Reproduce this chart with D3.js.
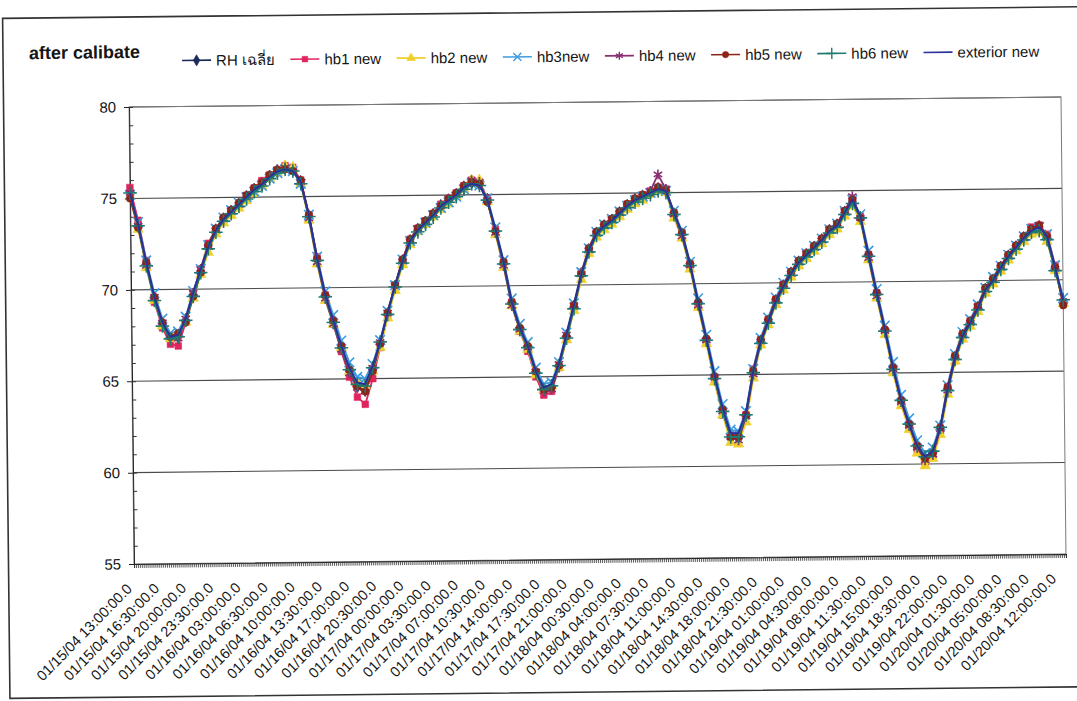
<!DOCTYPE html>
<html>
<head>
<meta charset="utf-8">
<script src="https://cdn.jsdelivr.net/npm/d3@7"></script>
<style>
  body { margin: 0; background: #fff; }
  text { font-family: Arial, 'Liberation Sans', 'Noto Sans', sans-serif; fill: #151515; }
</style>
</head>
<body>
<div id="chart"></div>
<script>
const width = 1077, height = 701;

// x category labels (every 3.5 h)
const tickLabels = [
  '01/15/04 13:00:00.0', '01/15/04 16:30:00.0', '01/15/04 20:00:00.0', '01/15/04 23:30:00.0',
  '01/16/04 03:00:00.0', '01/16/04 06:30:00.0', '01/16/04 10:00:00.0', '01/16/04 13:30:00.0',
  '01/16/04 17:00:00.0', '01/16/04 20:30:00.0', '01/17/04 00:00:00.0', '01/17/04 03:30:00.0',
  '01/17/04 07:00:00.0', '01/17/04 10:30:00.0', '01/17/04 14:00:00.0', '01/17/04 17:30:00.0',
  '01/17/04 21:00:00.0', '01/18/04 00:30:00.0', '01/18/04 04:00:00.0', '01/18/04 07:30:00.0',
  '01/18/04 11:00:00.0', '01/18/04 14:30:00.0', '01/18/04 18:00:00.0', '01/18/04 21:30:00.0',
  '01/19/04 01:00:00.0', '01/19/04 04:30:00.0', '01/19/04 08:00:00.0', '01/19/04 11:30:00.0',
  '01/19/04 15:00:00.0', '01/19/04 18:30:00.0', '01/19/04 22:00:00.0', '01/20/04 01:30:00.0',
  '01/20/04 05:00:00.0', '01/20/04 08:30:00.0', '01/20/04 12:00:00.0'
];
const firstReading = '01/15/04 13:00:00.0';
const lastReading = '01/20/04 13:00:00.0';

const yTicks = [55, 60, 65, 70, 75, 80];

const seriesNames = ['RH เฉลี่ย', 'hb1 new', 'hb2 new', 'hb3new', 'hb4 new', 'hb5 new', 'hb6 new', 'exterior new'];
const seriesColors = ['#1c2a5c', '#e0245e', '#f0cf2a', '#3d9be0', '#8a3070', '#8c2418', '#1f7a6e', '#2a2f9a'];
const seriesMarkers = ['diamond', 'square', 'triangle', 'times', 'asterisk', 'circle', 'plus', 'none'];

// hourly readings, %RH
const rhAvg = [
  75.4,73.6,71.4,69.5,68.1,67.3,67.4,68.3,69.7,71.0, 72.3,73.2,73.8,74.2,74.6,75.0,75.4,75.7,76.1,76.4,
  76.6,76.5,75.8,73.9,71.5,69.5,68.1,66.7,65.4,64.6, 64.4,65.5,66.9,68.5,70.0,71.4,72.5,73.1,73.5,73.9,
  74.4,74.7,75.0,75.4,75.7,75.6,74.7,73.0,71.2,69.0, 67.6,66.6,65.2,64.2,64.4,65.6,67.2,68.8,70.6,71.9,
  72.8,73.2,73.5,73.9,74.3,74.6,74.8,75.0,75.2,75.1, 73.8,72.7,71.0,68.9,66.9,64.8,63.0,61.5,61.5,62.7,
  65.1,66.8,67.9,69.0,69.8,70.5,71.1,71.5,71.9,72.3, 72.8,73.1,73.8,74.4,73.5,71.4,69.3,67.3,65.2,63.4,
  62.1,60.9,60.2,60.6,61.9,64.1,65.8,67.0,67.7,68.5, 69.5,70.0,70.7,71.3,71.8,72.3,72.7,72.8,72.3,70.6,
  68.8
];
const hb1 = [
  75.6,73.8,71.6,69.3,67.9,67.0,66.9,68.2,69.8,71.1, 72.5,73.3,73.9,74.3,74.5,75.1,75.5,75.9,76.2,76.4,
  76.7,76.6,75.9,74.0,71.7,69.6,68.0,66.5,65.1,64.0, 63.6,65.0,66.7,68.4,70.1,71.5,72.6,73.2,73.6,74.0,
  74.5,74.8,75.1,75.5,75.8,75.7,74.8,73.1,71.3,69.1, 67.5,66.4,65.0,64.0,64.2,65.5,67.1,68.8,70.7,72.0,
  72.9,73.3,73.6,74.0,74.4,74.7,74.9,75.1,75.3,75.2, 73.9,72.8,71.1,68.9,66.8,64.7,62.8,61.7,61.8,62.8,
  65.3,66.9,68.0,69.1,69.9,70.6,71.2,71.6,72.0,72.4, 72.9,73.2,73.9,74.5,73.6,71.5,69.4,67.3,65.1,63.3,
  62.0,60.8,60.1,60.5,61.8,64.2,65.9,67.1,67.8,68.6, 69.6,70.1,70.8,71.4,71.9,72.4,72.9,73.0,72.5,70.8,
  68.8
];
const hb2 = [
  75.1,73.3,71.2,69.4,68.0,67.3,67.5,68.2,69.5,70.8, 72.0,73.0,73.6,74.0,74.4,74.8,75.2,75.6,76.0,76.3,
  76.7,76.6,75.7,73.7,71.3,69.3,68.0,66.7,65.4,64.8, 64.6,65.4,66.7,68.3,69.8,71.2,72.3,73.0,73.4,73.8,
  74.2,74.5,74.9,75.3,75.8,75.8,74.6,72.8,71.0,68.9, 67.5,66.5,65.1,64.3,64.5,65.5,67.0,68.6,70.3,71.7,
  72.6,73.0,73.3,73.7,74.1,74.4,74.6,74.9,75.1,75.0, 73.6,72.5,70.8,68.7,66.7,64.6,62.8,61.3,61.2,62.4,
  64.8,66.6,67.7,68.8,69.6,70.3,70.9,71.3,71.7,72.1, 72.6,72.9,73.6,74.2,73.3,71.2,69.1,67.1,65.0,63.2,
  61.9,60.6,59.9,60.3,61.6,63.8,65.6,66.8,67.5,68.3, 69.3,69.8,70.5,71.1,71.6,72.1,72.5,72.6,72.1,70.5,
  68.7
];
const hb3 = [
  75.2,73.7,71.6,69.8,68.4,67.6,67.7,68.5,69.9,71.1, 72.4,73.3,73.9,74.3,74.7,75.0,75.3,75.6,76.0,76.3,
  76.5,76.4,75.7,74.0,71.7,69.8,68.5,67.1,65.9,65.1, 65.0,65.8,67.1,68.7,70.1,71.5,72.5,73.1,73.5,73.9,
  74.3,74.6,74.9,75.3,75.6,75.5,74.8,73.2,71.4,69.3, 67.9,66.9,65.5,64.6,64.7,65.8,67.4,69.0,70.7,72.0,
  72.9,73.3,73.6,74.0,74.3,74.6,74.8,75.0,75.2,75.1, 74.0,72.9,71.2,69.2,67.2,65.2,63.4,62.0,61.9,63.0,
  65.3,67.0,68.1,69.2,70.0,70.6,71.2,71.6,72.0,72.4, 72.9,73.2,73.9,74.5,73.7,71.7,69.6,67.6,65.6,63.8,
  62.5,61.3,60.6,60.9,62.1,64.3,66.0,67.2,67.9,68.7, 69.6,70.2,70.8,71.4,71.9,72.4,72.8,72.9,72.5,70.8,
  69.0
];
const hb4 = [
  75.3,73.5,71.3,69.6,68.2,67.4,67.3,68.4,69.8,71.1, 72.3,73.2,73.8,74.3,74.6,75.1,75.4,75.8,76.2,76.5,
  76.6,76.4,75.8,73.8,71.4,69.4,68.0,66.6,65.3,64.5, 64.3,65.6,67.0,68.6,70.1,71.4,72.5,73.2,73.6,74.0,
  74.4,74.8,75.0,75.4,75.8,75.7,74.7,72.9,71.1,68.9, 67.6,66.6,65.3,64.2,64.3,65.7,67.3,68.9,70.6,71.9,
  72.8,73.2,73.6,73.9,74.3,74.6,74.8,75.1,76.0,75.2, 73.8,72.6,71.0,68.8,66.9,64.9,63.0,61.6,61.4,62.7,
  65.0,66.8,67.9,69.0,69.9,70.5,71.1,71.6,71.9,72.3, 72.9,73.2,73.9,74.7,73.5,71.3,69.2,67.3,65.2,63.4,
  62.1,60.9,60.2,60.5,61.9,64.0,65.8,67.0,67.7,68.6, 69.5,70.0,70.7,71.3,71.8,72.3,72.8,73.0,72.3,70.6,
  68.8
];
const hb5 = [
  75.0,73.4,71.5,69.6,68.2,67.4,67.6,68.2,69.6,70.9, 72.4,73.3,73.9,74.3,74.7,75.1,75.5,75.8,76.2,76.5,
  76.5,76.4,75.9,74.0,71.6,69.6,68.2,66.8,65.5,64.6, 64.3,65.4,66.9,68.6,70.1,71.5,72.6,73.2,73.6,74.0,
  74.4,74.8,75.1,75.5,75.7,75.6,74.6,73.0,71.3,69.1, 67.7,66.7,65.3,64.3,64.4,65.6,67.2,68.9,70.6,72.0,
  72.9,73.3,73.6,74.0,74.4,74.7,74.9,75.0,75.3,75.1, 73.9,72.8,71.1,69.0,67.0,64.9,63.1,61.6,61.6,62.8,
  65.2,66.9,68.0,69.1,69.9,70.6,71.2,71.6,72.0,72.4, 72.9,73.2,73.9,74.5,73.5,71.5,69.4,67.4,65.3,63.5,
  62.2,61.0,60.3,60.6,62.0,64.2,65.9,67.1,67.8,68.6, 69.6,70.1,70.8,71.4,71.9,72.4,72.8,73.0,72.4,70.7,
  68.6
];
const hb6 = [
  75.3,73.5,71.3,69.4,68.0,67.3,67.4,68.3,69.6,70.9, 72.2,73.1,73.7,74.1,74.5,74.9,75.3,75.6,76.0,76.3,
  76.5,76.4,75.7,73.9,71.5,69.5,68.1,66.7,65.5,64.7, 64.6,65.6,67.0,68.5,70.0,71.3,72.4,73.0,73.4,73.8,
  74.3,74.6,74.9,75.3,75.6,75.5,74.7,73.0,71.2,69.0, 67.6,66.6,65.2,64.3,64.5,65.6,67.1,68.7,70.5,71.8,
  72.7,73.1,73.4,73.8,74.2,74.5,74.7,74.9,75.1,75.0, 73.8,72.7,71.0,68.9,66.9,64.8,63.0,61.6,61.6,62.8,
  65.1,66.7,67.8,68.9,69.7,70.4,71.0,71.4,71.8,72.2, 72.7,73.0,73.7,74.3,73.5,71.4,69.3,67.3,65.2,63.5,
  62.2,61.0,60.4,60.7,62.0,64.0,65.7,66.9,67.6,68.4, 69.4,69.9,70.6,71.2,71.7,72.2,72.6,72.7,72.2,70.5,
  68.9
];
const exterior = [
  75.3,73.6,71.5,69.6,68.2,67.4,67.5,68.4,69.8,71.1, 72.3,73.2,73.8,74.2,74.6,75.0,75.4,75.7,76.1,76.4,
  76.5,76.4,75.8,74.0,71.6,69.6,68.2,66.8,65.6,64.8, 64.7,65.7,67.0,68.6,70.1,71.4,72.5,73.1,73.5,73.9,
  74.4,74.7,75.0,75.4,75.6,75.5,74.7,73.1,71.3,69.1, 67.7,66.7,65.3,64.4,64.6,65.7,67.3,68.9,70.6,71.9,
  72.8,73.2,73.5,73.9,74.3,74.6,74.8,75.0,75.2,75.1, 73.9,72.8,71.1,69.0,67.0,65.0,63.2,61.8,61.8,62.9,
  65.2,66.8,67.9,69.0,69.8,70.5,71.1,71.5,71.9,72.3, 72.8,73.1,73.8,74.5,73.6,71.5,69.4,67.4,65.3,63.5,
  62.2,61.0,60.4,60.7,62.0,64.1,65.8,67.0,67.7,68.5, 69.5,70.0,70.7,71.3,71.8,72.3,72.7,72.9,72.4,70.7,
  68.9
];
const seriesValues = [rhAvg, hb1, hb2, hb3, hb4, hb5, hb6, exterior];

// plot box (before the slight scan tilt)
const plot = {left: 131.5, right: 1063.5, top: 102, bottom: 559};

const parseTime = d3.timeParse('%m/%d/%y %H:%M:%S.0');
const start = parseTime(firstReading);
const end = parseTime(lastReading);

let x = d3.scaleTime().domain([start, end]).range([plot.left, plot.right]);
let y = d3.scaleLinear().domain([55, 80]).range([plot.bottom, plot.top]);

let svg = d3.select('#chart').append('svg')
    .attr('width', width)
    .attr('height', height);

svg.append('rect').attr('width', width).attr('height', height).attr('fill', '#fff');

// the scanned page is a little tilted
let root = svg.append('g').attr('transform', 'rotate(-0.62,597,330)');

// outer chart frame
root.append('rect')
    .attr('x', 6).attr('y', 12)
    .attr('width', 1090).attr('height', 680)
    .attr('fill', 'none')
    .attr('stroke', '#333')
    .attr('stroke-width', 1.6);

// title
root.append('text')
    .attr('x', 32).attr('y', 53)
    .attr('font-size', 18)
    .attr('font-weight', 'bold')
    .text('after calibate');

// gridlines
root.append('g')
    .selectAll('line')
    .data(yTicks.filter(v => v > 55))
    .enter().append('line')
    .attr('x1', plot.left).attr('x2', plot.right)
    .attr('y1', d => y(d)).attr('y2', d => y(d))
    .attr('stroke', '#4a4a4a')
    .attr('stroke-width', 1.1);

// plot border
root.append('rect')
    .attr('x', plot.left).attr('y', plot.top)
    .attr('width', plot.right - plot.left).attr('height', plot.bottom - plot.top)
    .attr('fill', 'none')
    .attr('stroke', '#7a7a7a')
    .attr('stroke-width', 1);

// y axis
let yAxis = root.append('g')
    .attr('transform', 'translate(' + plot.left + ',0)')
    .call(d3.axisLeft(y).tickValues(yTicks).tickSize(5).tickPadding(8));
yAxis.selectAll('text').attr('font-size', 15).attr('font-family', "Arial, 'Liberation Sans', sans-serif");
yAxis.select('.domain').attr('stroke', '#222');
yAxis.selectAll('line').attr('stroke', '#222');

root.append('g')
    .attr('transform', 'translate(' + plot.left + ',0)')
    .call(d3.axisRight(y).ticks(25).tickSize(4).tickFormat(''))
    .call(g => g.select('.domain').remove())
    .selectAll('line').attr('stroke', '#333');

// x axis: dense minor ticks + rotated labels
let xMinor = root.append('g')
    .attr('transform', 'translate(0,' + plot.bottom + ')')
    .call(d3.axisBottom(x)
        .tickValues(d3.timeMinute.every(15).range(start, d3.timeMinute.offset(end, 1)))
        .tickSize(4)
        .tickFormat(''));
xMinor.select('.domain').attr('stroke', '#222');
xMinor.selectAll('line').attr('stroke', '#333').attr('stroke-width', 0.8);

root.append('g')
    .selectAll('text')
    .data(tickLabels)
    .enter().append('text')
    .attr('transform', d => 'translate(' + (x(parseTime(d)) - 5) + ',' + (plot.bottom + 22) + ') rotate(-45)')
    .attr('text-anchor', 'end')
    .attr('dy', '0.35em')
    .attr('font-size', 14.5)
    .text(d => d);

// markers
function markerPath(kind, size) {
  const types = {
    diamond: d3.symbolDiamond,
    square: d3.symbolSquare,
    triangle: d3.symbolTriangle,
    times: d3.symbolTimes || d3.symbolX,
    asterisk: d3.symbolAsterisk,
    circle: d3.symbolCircle,
    plus: d3.symbolPlus || d3.symbolCross
  };
  return d3.symbol(types[kind], size)();
}
const strokeMarkers = ['times', 'asterisk', 'plus'];
const markerSize = {diamond: 52, square: 44, triangle: 46, times: 62, asterisk: 66, circle: 44, plus: 62};

const times = rhAvg.map((v, i) => d3.timeHour.offset(start, i));

let line = d3.line()
    .x((d, i) => x(times[i]))
    .y(d => y(d));

let dataLayer = root.append('g');

seriesNames.forEach((name, s) => {
  let g = dataLayer.append('g').attr('class', 'series');
  g.append('path')
      .datum(seriesValues[s])
      .attr('d', line)
      .attr('fill', 'none')
      .attr('stroke', seriesColors[s])
      .attr('stroke-width', 1.8);

  let kind = seriesMarkers[s];
  if (kind === 'none') return;
  let isStroke = strokeMarkers.includes(kind);
  g.selectAll('path.m')
      .data(seriesValues[s])
      .enter().append('path')
      .attr('class', 'm')
      .attr('d', markerPath(kind, markerSize[kind]))
      .attr('transform', (d, i) => 'translate(' + x(times[i]) + ',' + y(d) + ')')
      .attr('fill', isStroke ? 'none' : seriesColors[s])
      .attr('stroke', seriesColors[s])
      .attr('stroke-width', isStroke ? 1.6 : 0.6);
});

// legend
let legend = root.append('g').attr('transform', 'translate(185,56)');
let lx = 0;
seriesNames.forEach((name, s) => {
  let item = legend.append('g').attr('transform', 'translate(' + lx + ',0)');
  item.append('line')
      .attr('x1', 0).attr('x2', 29)
      .attr('stroke', seriesColors[s])
      .attr('stroke-width', 1.6);
  let kind = seriesMarkers[s];
  if (kind !== 'none') {
    let isStroke = strokeMarkers.includes(kind);
    item.append('path')
        .attr('d', markerPath(kind, markerSize[kind] * 0.7))
        .attr('transform', 'translate(14.5,0)')
        .attr('fill', isStroke ? 'none' : seriesColors[s])
        .attr('stroke', seriesColors[s])
        .attr('stroke-width', isStroke ? 1.4 : 0.6);
  }
  let t = item.append('text')
      .attr('x', 34).attr('y', 5.5)
      .attr('font-size', 15)
      .text(name);
  lx += 34 + t.node().getComputedTextLength() + 15.5;
});
</script>
</body>
</html>
